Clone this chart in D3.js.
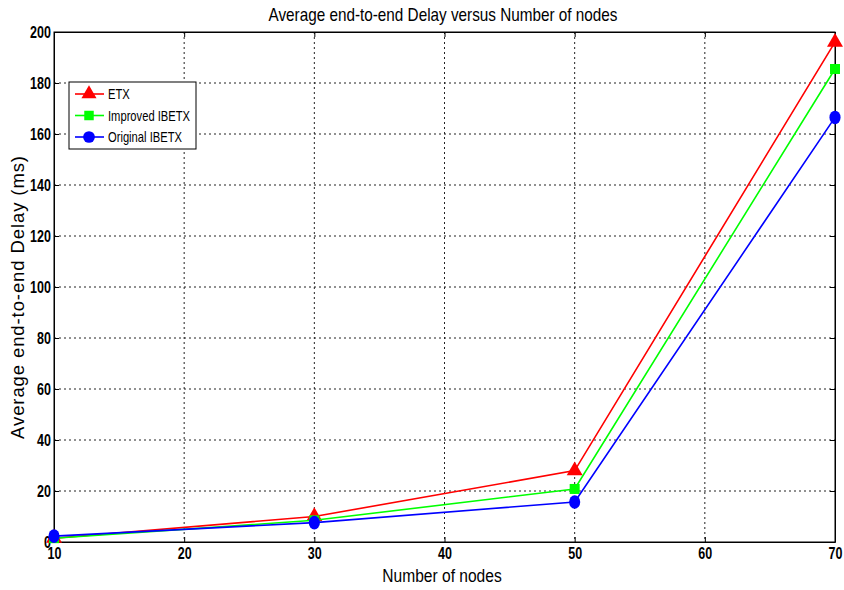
<!DOCTYPE html>
<html>
<head>
<meta charset="utf-8">
<script src="https://cdn.jsdelivr.net/npm/d3@7"></script>
<style>
  body { margin: 0; background: #fff; }
  text { font-family: "Liberation Sans", Arial, sans-serif; }
</style>
</head>
<body>
<svg id="chart" width="844" height="590"></svg>
<script>
// data
const nodes = [10, 30, 50, 70];
const etx = [1.5, 10, 28, 196];
const improvedIbetx = [1.5, 8.5, 20.8, 185.5];
const originalIbetx = [2.3, 7.6, 15.7, 166.5];
const seriesNames = ['ETX', 'Improved IBETX', 'Original IBETX'];
const xTicks = [10, 20, 30, 40, 50, 60, 70];
const yTicks = [0, 20, 40, 60, 80, 100, 120, 140, 160, 180, 200];

const svg = d3.select('#chart');
const plotLeft = 54, plotRight = 835, plotTop = 32, plotBottom = 542;

const x = d3.scaleLinear().domain([10, 70]).range([plotLeft, plotRight]);
const y = d3.scaleLinear().domain([0, 200]).range([plotBottom, plotTop]);

// squeeze text horizontally (matlab export looks condensed)
const narrow = (sel, sx) => sel.each(function () {
    const t = d3.select(this);
    const tx = +t.attr('x') || 0, ty = +t.attr('y') || 0;
    t.attr('x', 0).attr('y', 0).attr('transform', `translate(${tx},${ty}) scale(${sx},1)`);
});

// grid
svg.append('g').selectAll('line').data(xTicks.slice(1, -1)).enter().append('line')
    .attr('x1', d => x(d)).attr('x2', d => x(d))
    .attr('y1', plotTop).attr('y2', plotBottom)
    .attr('stroke', '#222').attr('stroke-dasharray', '2,3');
svg.append('g').selectAll('line').data(yTicks.slice(1, -1)).enter().append('line')
    .attr('x1', plotLeft).attr('x2', plotRight)
    .attr('y1', d => y(d)).attr('y2', d => y(d))
    .attr('stroke', '#222').attr('stroke-dasharray', '2,3');

// axes (ticks inward, like matlab)
const xAxis = d3.axisBottom(x).tickValues(xTicks).tickSizeInner(-5).tickSizeOuter(0).tickPadding(5);
const yAxis = d3.axisLeft(y).tickValues(yTicks).tickSizeInner(-5).tickSizeOuter(0).tickPadding(3);

svg.append('g').attr('transform', `translate(0,${plotBottom})`).call(xAxis)
    .call(g => g.selectAll('text').attr('font-size', 16.5).attr('font-weight', 'bold').attr('fill', '#000')
        .attr('font-family', '"Liberation Sans", Arial, sans-serif').call(narrow, 0.76));
svg.append('g').attr('transform', `translate(${plotLeft},0)`).call(yAxis)
    .call(g => g.selectAll('text').attr('font-size', 16.5).attr('font-weight', 'bold').attr('fill', '#000')
        .attr('font-family', '"Liberation Sans", Arial, sans-serif').call(narrow, 0.76));
svg.append('g').attr('transform', `translate(0,${plotTop})`)
    .call(d3.axisTop(x).tickValues(xTicks).tickSizeInner(-5).tickSizeOuter(0).tickFormat(''));
svg.append('g').attr('transform', `translate(${plotRight},0)`)
    .call(d3.axisRight(y).tickValues(yTicks).tickSizeInner(-5).tickSizeOuter(0).tickFormat(''));
svg.selectAll('.domain').attr('stroke', '#000');

svg.append('rect').attr('x', plotLeft).attr('y', plotTop)
    .attr('width', plotRight - plotLeft).attr('height', plotBottom - plotTop)
    .attr('fill', 'none').attr('stroke', '#000');

// series
const series = [
    { name: seriesNames[0], values: etx, color: '#ff0000', marker: d3.symbolTriangle, size: 110 },
    { name: seriesNames[1], values: improvedIbetx, color: '#00ff00', marker: d3.symbolSquare, size: 100 },
    { name: seriesNames[2], values: originalIbetx, color: '#0000ff', marker: d3.symbolCircle, size: 120 }
];

const line = d3.line().x(d => x(d[0])).y(d => y(d[1]));

series.forEach(s => {
    const pts = nodes.map((n, i) => [n, s.values[i]]);
    svg.append('path').datum(pts)
        .attr('d', line).attr('fill', 'none')
        .attr('stroke', s.color).attr('stroke-width', 1.6);
    svg.append('g').selectAll('path').data(pts).enter().append('path')
        .attr('d', d3.symbol().type(s.marker).size(s.size))
        .attr('transform', d => `translate(${x(d[0])},${y(d[1])})` + (s.marker === d3.symbolCircle ? ' scale(0.9,1.1)' : ''))
        .attr('fill', s.color);
});

// legend
const legend = svg.append('g').attr('transform', 'translate(69,82)');
legend.append('rect').attr('width', 127).attr('height', 67)
    .attr('fill', '#fff').attr('stroke', '#000');
series.forEach((s, i) => {
    const ly = 12 + i * 21.5;
    legend.append('line').attr('x1', 6).attr('x2', 35).attr('y1', ly).attr('y2', ly)
        .attr('stroke', s.color).attr('stroke-width', 1.6);
    legend.append('path')
        .attr('d', d3.symbol().type(s.marker).size(s.size * 0.9))
        .attr('transform', `translate(20,${ly})`)
        .attr('fill', s.color);
    legend.append('text').attr('x', 39).attr('y', ly + 5)
        .attr('font-size', 14).text(s.name).call(narrow, 0.8);
});

// titles
svg.append('text').attr('x', 443).attr('y', 21).attr('text-anchor', 'middle')
    .attr('font-size', 18).text('Average end-to-end Delay versus Number of nodes').call(narrow, 0.85);
svg.append('text').attr('x', 442).attr('y', 582).attr('text-anchor', 'middle')
    .attr('font-size', 19).text('Number of nodes').call(narrow, 0.82);
svg.append('text').attr('transform', 'translate(24,297) rotate(-90)')
    .attr('text-anchor', 'middle')
    .attr('font-size', 18.5).attr('letter-spacing', 0.9).text('Average end-to-end Delay (ms)');
</script>
</body>
</html>
